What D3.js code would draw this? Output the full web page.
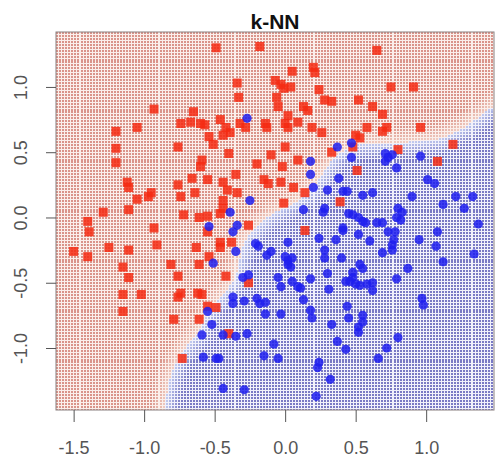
<!DOCTYPE html>
<html>
<head>
<meta charset="utf-8">
<script src="https://cdn.jsdelivr.net/npm/d3@7"></script>
<style>
  body { margin: 0; background: #fff; }
  text { font-family: "Liberation Sans", Arial, sans-serif; }
</style>
</head>
<body>
<svg id="chart" width="495" height="457"></svg>
<script>
// tick labels
const xTicks = [-1.5, -1.0, -0.5, 0.0, 0.5, 1.0];
const yTicks = [-1.0, -0.5, 0.0, 0.5, 1.0];

// class 1 (red squares)
const redPts = [
  [-0.49,1.30],[-0.34,1.03],[-0.33,0.92],[-0.93,0.83],[-0.65,0.81],[-0.74,0.72],[-0.67,0.73],[-0.60,0.72],[-0.57,0.71],[-0.46,0.75],
  [-0.42,0.69],[-0.39,0.65],[-0.44,0.63],[-0.32,0.72],[-0.28,0.69],[-1.20,0.66],[-1.05,0.69],[-1.20,0.53],[-1.20,0.42],[-0.54,0.62],
  [-0.51,0.56],[-0.76,0.54],[-0.40,0.49],[-0.59,0.44],[-0.60,0.39],[-1.12,0.27],[-1.11,0.23],[-0.66,0.30],[-0.55,0.29],[-0.35,0.33],
  [-0.76,0.25],[-0.74,0.16],[-0.64,0.19],[-0.44,0.27],[-0.41,0.21],[-0.34,0.19],[-0.44,0.13],[-0.44,0.07],[-0.46,0.03],[-0.95,0.19],
  [-0.97,0.16],[-1.05,0.14],[-1.29,0.04],[-1.11,0.06],[-0.72,0.02],[-0.61,0.00],[-0.55,0.01],[-1.40,-0.03],[-0.93,-0.08],
  [-0.18,1.31],[0.65,1.28],[0.05,1.12],[0.20,1.15],[0.21,1.11],[-0.07,1.05],[-0.03,1.02],[-0.01,0.99],[0.04,1.00],[0.75,1.00],
  [0.91,1.00],[0.24,0.98],[-0.06,0.92],[-0.05,0.85],[0.28,0.90],[0.33,0.89],[0.52,0.90],[0.13,0.85],[0.16,0.82],[0.62,0.85],
  [0.69,0.79],[0.02,0.78],[0.00,0.72],[0.02,0.69],[0.09,0.73],[-0.14,0.72],[-0.13,0.69],[0.19,0.69],[0.26,0.65],[0.58,0.69],
  [0.72,0.69],[0.69,0.66],[0.96,0.69],[0.50,0.63],[0.53,0.61],[0.00,0.54],[0.33,0.50],[0.48,0.54],[0.80,0.52],[1.19,0.56],
  [1.08,0.43],[-0.10,0.48],[-0.20,0.41],[-0.02,0.39],[0.09,0.44],[-0.15,0.29],[-0.12,0.26],[-0.03,0.27],[0.06,0.23],[0.14,0.19],
  [0.51,0.36],[0.39,0.12],[-0.01,0.11],[-0.26,-0.06],
  [-1.39,-0.11],[-1.50,-0.26],[-1.40,-0.30],[-1.25,-0.23],[-1.11,-0.25],[-0.91,-0.21],[-0.63,-0.23],[-0.46,-0.19],[-0.46,-0.23],[-0.38,-0.19],
  [-0.55,-0.11],[-0.54,-0.30],[-1.15,-0.38],[-1.11,-0.46],[-0.81,-0.36],[-0.61,-0.36],[-0.76,-0.45],[-0.42,-0.45],[-1.15,-0.59],[-1.02,-0.59],
  [-0.76,-0.61],[-0.74,-0.58],[-0.62,-0.58],[-0.59,-0.59],[-0.55,-0.68],[-0.49,-0.69],[-1.15,-0.72],[-0.79,-0.78],[-0.61,-0.78],[-0.40,-0.89],
  [-0.73,-1.08],[-0.26,-0.50],[0.14,-0.10]
];

// class 2 (blue circles)
const bluePts = [
  [-0.27,0.76],[-0.39,0.04],[-0.54,-0.07],[-0.34,-0.06],[-0.25,0.13],[0.37,0.54],[0.47,0.57],[0.47,0.46],[0.71,0.49],[0.73,0.46],
  [0.76,0.48],[0.71,0.43],[0.79,0.38],[0.96,0.47],[0.18,0.43],[0.18,0.33],[0.38,0.30],[0.20,0.23],[0.30,0.21],[0.41,0.20],
  [0.44,0.20],[0.55,0.17],[0.62,0.19],[0.90,0.16],[1.01,0.29],[1.06,0.26],[1.21,0.16],[1.33,0.16],[1.12,0.10],[1.27,0.07],
  [0.13,0.06],[0.28,0.07],[0.27,0.04],[0.45,0.03],[0.48,0.02],[0.52,0.00],[0.55,-0.03],[0.57,-0.04],[0.80,0.07],[0.83,0.04],
  [0.79,0.00],[0.82,-0.02],[0.65,-0.04],[0.69,-0.04],[0.41,-0.08],[1.37,-0.05],
  [-0.37,-0.11],[-0.35,-0.26],[-0.51,-0.35],[-0.30,-0.46],[-0.26,-0.44],[-0.37,-0.61],[-0.37,-0.66],[-0.29,-0.64],[-0.55,-0.72],[-0.52,-0.82],
  [-0.59,-0.90],[-0.44,-0.90],[-0.35,-0.91],[-0.27,-0.89],[-0.58,-1.07],[-0.49,-1.08],[-0.47,-1.08],[-0.44,-1.31],[-0.29,-1.32],
  [0.41,-0.10],[0.52,-0.13],[0.24,-0.16],[0.36,-0.17],[0.60,-0.18],[0.02,-0.19],[-0.21,-0.20],[-0.19,-0.22],[-0.10,-0.26],[-0.13,-0.29],
  [0.28,-0.25],[0.28,-0.31],[0.00,-0.30],[0.02,-0.33],[0.05,-0.31],[0.02,-0.36],[0.04,-0.38],[0.40,-0.31],[0.69,-0.27],[0.76,-0.21],
  [0.76,-0.25],[0.77,-0.17],[0.73,-0.11],[0.78,-0.11],[0.95,-0.17],[1.08,-0.11],[1.07,-0.22],[1.34,-0.28],[1.12,-0.34],[0.87,-0.39],
  [0.30,-0.43],[0.48,-0.42],[0.48,-0.46],[0.53,-0.36],[0.55,-0.39],[-0.05,-0.46],[-0.03,-0.53],[0.18,-0.47],[0.05,-0.49],[0.09,-0.53],
  [0.11,-0.54],[0.31,-0.55],[0.43,-0.49],[0.46,-0.49],[0.50,-0.51],[0.53,-0.52],[0.58,-0.51],[0.62,-0.50],[0.62,-0.56],[0.79,-0.47],
  [0.13,-0.63],[-0.20,-0.62],[-0.18,-0.66],[-0.14,-0.65],[-0.14,-0.74],[-0.03,-0.74],[0.18,-0.71],[0.19,-0.77],[0.44,-0.68],[0.45,-0.77],
  [0.55,-0.75],[0.55,-0.80],[0.52,-0.84],[0.52,-0.88],[0.33,-0.82],[0.97,-0.62],[0.98,-0.67],[0.80,-0.92],[0.37,-0.95],[-0.08,-0.97],
  [0.43,-1.01],[0.72,-1.00],[-0.15,-1.06],[-0.05,-1.08],[0.66,-1.08],[0.24,-1.11],[0.23,-1.15],[0.32,-1.24],[0.22,-1.37]
];

// k-NN decision boundary (class 2 lies below/right of it)
const boundary = [
  [1.60,0.95],[1.48,0.86],[1.28,0.69],[1.10,0.60],[0.82,0.57],[0.53,0.56],[0.42,0.52],[0.33,0.44],[0.26,0.33],[0.18,0.21],
  [0.07,0.11],[-0.10,0.02],[-0.21,-0.08],[-0.30,-0.19],[-0.33,-0.33],[-0.36,-0.48],[-0.44,-0.59],[-0.52,-0.69],[-0.57,-0.78],
  [-0.63,-0.90],[-0.71,-1.00],[-0.77,-1.09],[-0.83,-1.26],[-0.88,-1.60]
];

const svg = d3.select('#chart');
const plot = { left: 56, right: 494, top: 32, bottom: 410 };

const x = d3.scaleLinear().domain([-1.625, 1.481]).range([plot.left, plot.right]);
const y = d3.scaleLinear().domain([-1.475, 1.421]).range([plot.bottom, plot.top]);

svg.append('defs').append('clipPath').attr('id', 'clip')
  .append('rect')
  .attr('x', plot.left).attr('y', plot.top)
  .attr('width', plot.right - plot.left).attr('height', plot.bottom - plot.top);

const boundaryPx = boundary.map(([a, b]) => [x(a), y(b)]);
const bluePoly = boundaryPx.concat([[x(1.6), y(-1.6)]]);

function segDist(p, a, b) {
  const dx = b[0] - a[0], dy = b[1] - a[1];
  let t = ((p[0] - a[0]) * dx + (p[1] - a[1]) * dy) / (dx * dx + dy * dy);
  t = Math.max(0, Math.min(1, t));
  const ex = a[0] + t * dx - p[0], ey = a[1] + t * dy - p[1];
  return Math.sqrt(ex * ex + ey * ey);
}
function distToBoundary(p) {
  let m = Infinity;
  for (let i = 1; i < boundaryPx.length; i += 1) m = Math.min(m, segDist(p, boundaryPx[i - 1], boundaryPx[i]));
  return m;
}

const bg = svg.append('g').attr('clip-path', 'url(#clip)');

// pale base under the dot grid
bg.append('rect')
  .attr('x', plot.left).attr('y', plot.top)
  .attr('width', plot.right - plot.left).attr('height', plot.bottom - plot.top)
  .attr('fill', '#fbefeb');
bg.append('path')
  .attr('d', d3.line()(bluePoly) + 'Z')
  .attr('fill', '#f1f1fb');

// prediction grid
const stepX = 0.02155;
const stepY = 0.02253;
const gridX = d3.range(-1.62, 1.481, stepX);
const gridY = d3.range(-1.475, 1.421, stepY);
const cells = [];
gridY.forEach((gy) => {
  gridX.forEach((gx) => {
    const p = [x(gx), y(gy)];
    const isBlue = d3.polygonContains(bluePoly, p);
    const t = Math.min(1, distToBoundary(p) / 15);
    cells.push({ px: Math.floor(p[0]), py: Math.floor(p[1]), isBlue, t });
  });
});
const redCol = d3.interpolateRgb('#efcbc0', '#da948a');
const blueCol = d3.interpolateRgb('#c2cbef', '#7a7ac4');

bg.append('g')
  .selectAll('rect')
  .data(cells)
  .join('rect')
  .attr('x', (d) => d.px)
  .attr('y', (d) => d.py - 1)
  .attr('width', 2)
  .attr('height', 2)
  .attr('shape-rendering', 'crispEdges')
  .attr('fill', (d) => (d.isBlue ? blueCol(d.t) : redCol(d.t)));

// data points
const pts = svg.append('g').attr('clip-path', 'url(#clip)');
pts.selectAll('rect.red')
  .data(redPts)
  .join('rect')
  .attr('class', 'red')
  .attr('x', (d) => x(d[0]) - 4.5)
  .attr('y', (d) => y(d[1]) - 4.5)
  .attr('width', 9)
  .attr('height', 9)
  .attr('fill', '#f52a12')
  .attr('fill-opacity', 0.85);
pts.selectAll('circle.blue')
  .data(bluePts)
  .join('circle')
  .attr('class', 'blue')
  .attr('cx', (d) => x(d[0]))
  .attr('cy', (d) => y(d[1]))
  .attr('r', 4.6)
  .attr('fill', '#1e1eee')
  .attr('fill-opacity', 0.85);

// box
svg.append('rect')
  .attr('x', plot.left).attr('y', plot.top)
  .attr('width', plot.right - plot.left).attr('height', plot.bottom - plot.top)
  .attr('fill', 'none')
  .attr('stroke', '#8a8080')
  .attr('stroke-width', 1);

// axes, R style
const fmt = (d) => d.toFixed(1);
const xAxis = svg.append('g')
  .attr('transform', `translate(0,${plot.bottom})`)
  .call(d3.axisBottom(x).tickValues(xTicks).tickSize(12).tickFormat(fmt));
xAxis.select('.domain').remove();
xAxis.selectAll('line').attr('stroke', '#555');
xAxis.selectAll('text')
  .attr('y', 44)
  .attr('dy', null)
  .attr('fill', '#555')
  .style('font-size', '18px');

const yAxis = svg.append('g')
  .attr('transform', `translate(${plot.left},0)`)
  .call(d3.axisLeft(y).tickValues(yTicks).tickSize(10).tickFormat(fmt));
yAxis.select('.domain').remove();
yAxis.selectAll('line').attr('stroke', '#555');
yAxis.selectAll('text')
  .attr('x', null)
  .attr('dy', null)
  .attr('text-anchor', 'middle')
  .attr('transform', 'translate(-29,0) rotate(-90)')
  .attr('fill', '#555')
  .style('font-size', '18px');

svg.append('text')
  .attr('x', (plot.left + plot.right) / 2)
  .attr('y', 29)
  .attr('text-anchor', 'middle')
  .style('font-size', '21px')
  .style('font-weight', 'bold')
  .attr('fill', '#111')
  .text('k-NN');
</script>
</body>
</html>
